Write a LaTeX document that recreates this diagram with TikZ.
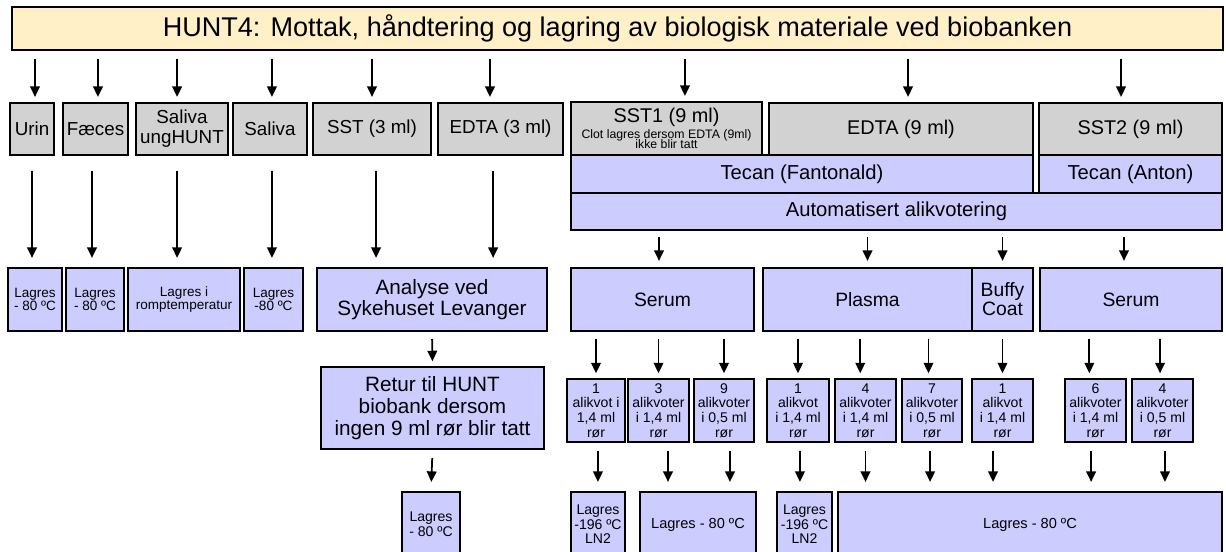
\documentclass[tikz,border=0pt]{standalone}
\usepackage{fontspec}
\setmainfont{Liberation Sans}
\usetikzlibrary{arrows.meta}

\definecolor{tubegray}{RGB}{210,210,210}
\definecolor{stepblue}{RGB}{204,204,255}
\definecolor{titlecream}{RGB}{255,240,200}

\newcommand{\fsz}[2]{\fontsize{#1}{#2}\selectfont}
% box from corner (x1,y1) to corner (x2,y2), in pixels of the picture
\newcommand{\boxat}[7]{%
  \node[#1, minimum width={(#5-#3)*0.02cm}, minimum height={(#6-#4)*0.02cm}]
    (#2) at ({(#3+#5)/2},{(#4+#6)/2}) {#7};}

\tikzset{
  box/.style={draw=black, line width=1.3pt, inner sep=0pt, align=center},
  gbox/.style={box, fill=tubegray, font=\fsz{10.7}{11.5}},
  bbox/.style={box, fill=stepblue, font=\fsz{11.5}{12.5}},
  tbox/.style={box, fill=titlecream, font=\fsz{15.4}{17}},
  smallbox/.style={box, fill=stepblue, font=\fsz{7.7}{7.6}},
  alqbox/.style={box, fill=stepblue, font=\fsz{8}{8.3}},
  arr/.style={-{Triangle[width=5.5pt,length=6pt]}, line width=1pt},
  gapT/.style={shorten <=4.5pt, shorten >=2.8pt},
  gapL/.style={shorten <=8.5pt, shorten >=5.1pt},
  gapS/.style={shorten <=3.4pt, shorten >=3.4pt},
  gapM/.style={shorten <=4pt, shorten >=2.6pt},
  gapB/.style={shorten <=4.5pt, shorten >=5.1pt}
}

\begin{document}
\begin{tikzpicture}[x=0.02cm, y=-0.02cm]
\useasboundingbox (0,0) rectangle (1226,551);
\clip (0,0) rectangle (1226,551);

\boxat{tbox}{title}{12}{7}{1223}{50}{HUNT4: Mottak, håndtering og lagring av biologisk materiale ved biobanken}

% tubes
\boxat{gbox}{urin}{10}{103}{54}{155}{Urin}
\boxat{gbox}{faeces}{63}{103}{128}{155}{Fæces}
\boxat{gbox}{salung}{136}{103}{228}{155}{Saliva\\ungHUNT}
\boxat{gbox}{saliva}{233}{103}{307}{155}{Saliva}
\boxat{gbox}{sst}{313}{103}{431}{155}{SST (3 ml)}
\boxat{gbox}{edtaA}{438}{103}{563}{155}{EDTA (3 ml)}
\boxat{gbox, font=\fsz{11.3}{9}}{sstA}{571}{102}{762}{155}{SST1 (9 ml)\\\fsz{7}{7.5}Clot lagres dersom EDTA (9ml)\\[-3pt]\fsz{7}{7.5}ikke blir tatt}
\boxat{gbox, font=\fsz{11.3}{13}}{edtaB}{769}{103}{1033}{155}{EDTA (9 ml)}
\boxat{gbox, font=\fsz{11.3}{13}}{sstB}{1039}{103}{1222}{155}{SST2 (9 ml)}

% robots
\boxat{bbox}{tecanF}{571}{155}{1033}{193}{Tecan (Fantonald)}
\boxat{bbox}{tecanA}{1039}{155}{1222}{193}{Tecan (Anton)}
\boxat{bbox}{auto}{571}{193}{1222}{230}{Automatisert alikvotering}

% first storage / fractions
\boxat{smallbox}{lagUrin}{8}{268}{62}{331}{Lagres\\- 80 ºC}
\boxat{smallbox}{lagFaeces}{66}{268}{124}{331}{Lagres\\- 80 ºC}
\boxat{smallbox}{lagRom}{128}{268}{240}{331}{Lagres i\\romptemperatur}
\boxat{smallbox}{lagSaliva}{244}{268}{303}{331}{Lagres\\-80 ºC}
\boxat{bbox, font=\fsz{11.8}{12.2}}{analyse}{317}{268}{547}{331}{Analyse ved\\Sykehuset Levanger}
\boxat{bbox, font=\fsz{11}{12}}{serumA}{571}{268}{754}{331}{Serum}
\boxat{bbox, font=\fsz{11}{12}}{plasma}{763}{268}{972}{331}{Plasma}
\boxat{bbox, font=\fsz{11}{10.8}}{buffy}{972}{268}{1033}{331}{Buffy\\Coat}
\boxat{bbox, font=\fsz{11}{12}}{serumB}{1040}{268}{1222}{331}{Serum}

\boxat{bbox, font=\fsz{11.8}{12.5}}{retur}{321}{367}{544}{449}{Retur til HUNT\\biobank dersom\\ingen 9 ml rør blir tatt}

% aliquots
\boxat{alqbox}{alq1}{567}{379}{625}{442}{1\\alikvot i\\1,4 ml\\rør}
\boxat{alqbox}{alq2}{628}{379}{689}{442}{3\\alikvoter\\i 1,4 ml\\rør}
\boxat{alqbox}{alq3}{694}{379}{754}{442}{9\\alikvoter\\i 0,5 ml\\rør}
\boxat{alqbox}{alq4}{767}{379}{829}{442}{1\\alikvot\\i 1,4 ml\\rør}
\boxat{alqbox}{alq5}{835}{379}{896}{442}{4\\alikvoter\\i 1,4 ml\\rør}
\boxat{alqbox}{alq6}{902}{379}{962}{442}{7\\alikvoter\\i 0,5 ml\\rør}
\boxat{alqbox}{alq7}{972}{379}{1033}{442}{1\\alikvot\\i 1,4 ml\\rør}
\boxat{alqbox}{alq8}{1065}{379}{1126}{442}{6\\alikvoter\\i 1,4 ml\\rør}
\boxat{alqbox}{alq9}{1132}{379}{1193}{442}{4\\alikvoter\\i 0,5 ml\\rør}

% final storage
\boxat{alqbox}{lagRet}{402}{492}{460}{557}{Lagres\\- 80 ºC}
\boxat{alqbox}{ln2A}{571}{492}{625}{557}{Lagres\\-196 ºC\\LN2}
\boxat{alqbox, font=\fsz{8.3}{9}}{lagA}{640}{492}{756}{557}{Lagres - 80 ºC}
\boxat{alqbox}{ln2B}{777}{492}{832}{557}{Lagres\\-196 ºC\\LN2}
\boxat{alqbox, font=\fsz{8.3}{9}}{lagB}{838}{492}{1222}{557}{Lagres - 80 ºC}

% arrows
\draw[arr,gapT] ([xshift=1.7pt]title.south -| urin.north) -- ([xshift=1.7pt]urin.north);
\draw[arr,gapT] ([xshift=1.4pt]title.south -| faeces.north) -- ([xshift=1.4pt]faeces.north);
\draw[arr,gapT] ([xshift=-2.8pt]title.south -| salung.north) -- ([xshift=-2.8pt]salung.north);
\draw[arr,gapT] ([xshift=1.1pt]title.south -| saliva.north) -- ([xshift=1.1pt]saliva.north);
\draw[arr,gapT] (title.south -| sst.north) -- (sst.north);
\draw[arr,gapT] ([xshift=-6pt]title.south -| edtaA.north) -- ([xshift=-6pt]edtaA.north);
\draw[arr,gapT] ([xshift=10.5pt]title.south -| sstA.north) -- ([xshift=10.5pt]sstA.north);
\draw[arr,gapT] ([xshift=4pt]title.south -| edtaB.north) -- ([xshift=4pt]edtaB.north);
\draw[arr,gapT] ([xshift=-5.4pt]title.south -| sstB.north) -- ([xshift=-5.4pt]sstB.north);

\draw[arr,gapL] (urin.south) -- (lagUrin.north -| urin.south);
\draw[arr,gapL] ([xshift=-2pt]faeces.south) -- ([xshift=-2pt]lagFaeces.north -| faeces.south);
\draw[arr,gapL] ([xshift=-2.8pt]salung.south) -- ([xshift=-2.8pt]lagRom.north -| salung.south);
\draw[arr,gapL] ([xshift=1.1pt]saliva.south) -- ([xshift=1.1pt]lagSaliva.north -| saliva.south);
\draw[arr,gapL] ([xshift=2.3pt]sst.south) -- ([xshift=2.3pt]analyse.north -| sst.south);
\draw[arr,gapL] ([xshift=-4.2pt]edtaA.south) -- ([xshift=-4.2pt]analyse.north -| edtaA.south);

\draw[arr,gapS] ([xshift=-2pt]auto.south -| serumA.north) -- ([xshift=-2pt]serumA.north);
\draw[arr,gapS] (auto.south -| plasma.north) -- (plasma.north);
\draw[arr,gapS] (auto.south -| buffy.north) -- (buffy.north);
\draw[arr,gapS] ([xshift=-4pt]auto.south -| serumB.north) -- ([xshift=-4pt]serumB.north);

\draw[arr,gapM] (analyse.south) -- (retur.north);
\draw[arr,gapM] (serumA.south -| alq1.north) -- (alq1.north);
\draw[arr,gapM] (serumA.south -| alq2.north) -- (alq2.north);
\draw[arr,gapM] (serumA.south -| alq3.north) -- (alq3.north);
\draw[arr,gapM] (plasma.south -| alq4.north) -- (alq4.north);
\draw[arr,gapM] ([xshift=-3pt]plasma.south -| alq5.north) -- ([xshift=-3pt]alq5.north);
\draw[arr,gapM] ([xshift=-2pt]plasma.south -| alq6.north) -- ([xshift=-2pt]alq6.north);
\draw[arr,gapM] (buffy.south) -- (alq7.north);
\draw[arr,gapM] ([xshift=-3.5pt]serumB.south -| alq8.north) -- ([xshift=-3.5pt]alq8.north);
\draw[arr,gapM] ([xshift=-1.4pt]serumB.south -| alq9.north) -- ([xshift=-1.4pt]alq9.north);

\draw[arr,gapB] (retur.south) -- (lagRet.north);
\draw[arr,gapB] ([xshift=1.1pt]alq1.south) -- ([xshift=1.1pt]ln2A.north -| alq1.south);
\draw[arr,gapB] ([xshift=5.4pt]alq2.south) -- ([xshift=5.4pt]lagA.north -| alq2.south);
\draw[arr,gapB] ([xshift=3.4pt]alq3.south) -- ([xshift=3.4pt]lagA.north -| alq3.south);
\draw[arr,gapB] ([xshift=1.1pt]alq4.south) -- ([xshift=1.1pt]ln2B.north -| alq4.south);
\draw[arr,gapB] (alq5.south) -- (lagB.north -| alq5.south);
\draw[arr,gapB] ([xshift=-1.1pt]alq6.south) -- ([xshift=-1.1pt]lagB.north -| alq6.south);
\draw[arr,gapB] ([xshift=-5.4pt]alq7.south) -- ([xshift=-5.4pt]lagB.north -| alq7.south);
\draw[arr,gapB] ([xshift=-2.5pt]alq8.south) -- ([xshift=-2.5pt]lagB.north -| alq8.south);
\draw[arr,gapB] ([xshift=1.4pt]alq9.south) -- ([xshift=1.4pt]lagB.north -| alq9.south);

\end{tikzpicture}
\end{document}
